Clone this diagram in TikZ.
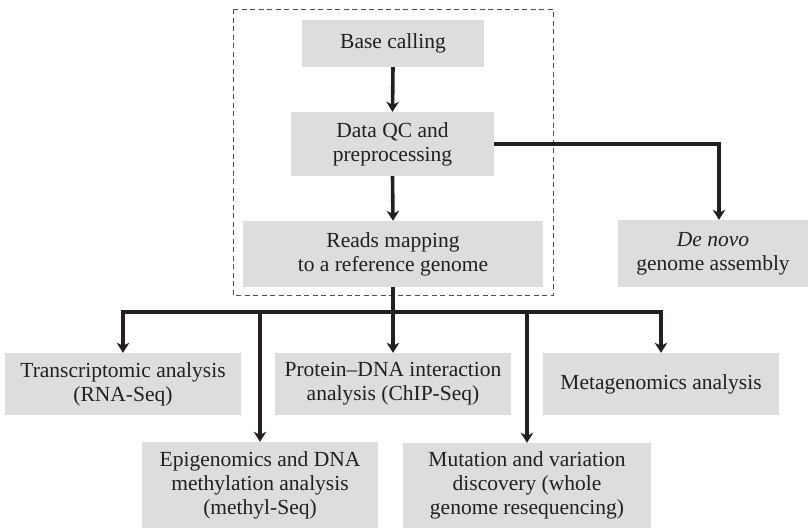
\documentclass[tikz,border=0pt]{standalone}
\usepackage{fontspec}
\setmainfont{Liberation Serif}
\usetikzlibrary{arrows.meta}
\definecolor{boxgray}{RGB}{221,221,222}
\definecolor{ink}{RGB}{35,31,32}
\tikzset{
  stepbox/.style={fill=boxgray, draw=none, align=center, inner sep=0pt,
    text=ink, font=\fontsize{21.5}{24}\selectfont},
  link/.style={draw=ink, line width=3.6pt},
  arr/.style={link, -{Stealth[length=10pt,width=12.5pt,inset=3pt]}},
  group/.style={draw=ink!80, line width=0.9pt, dash pattern=on 5pt off 3.5pt}
}
\begin{document}
\begin{tikzpicture}[x=1pt,y=-1pt]
  \useasboundingbox (0,0) rectangle (812,528);

  % pipeline core
  \node[stepbox, minimum width=182, minimum height=47] (base)  at (393,43.5) {Base calling};
  \node[stepbox, minimum width=203, minimum height=64] (qc)    at (392.5,144) {Data QC and\\preprocessing};
  \node[stepbox, minimum width=300, minimum height=66] (reads) at (393,254) {Reads mapping\\to a reference genome};
  \draw[group] (233,9) rectangle (553,295);

  % assembly branch
  \node[stepbox, minimum width=190, minimum height=67] (denovo) at (713,253.5) {\textit{De novo}\\genome assembly};

  % downstream analyses
  \node[stepbox, minimum width=236, minimum height=62] (trans)   at (123,384) {Transcriptomic analysis\\(RNA-Seq)};
  \node[stepbox, minimum width=236, minimum height=62] (protein) at (393,384) {Protein--DNA interaction\\analysis (ChIP-Seq)};
  \node[stepbox, minimum width=236, minimum height=62] (meta)    at (661,384) {Metagenomics analysis};
  \node[stepbox, minimum width=236, minimum height=86] (epi)     at (260,485) {Epigenomics and DNA\\methylation analysis\\(methyl-Seq)};
  \node[stepbox, minimum width=248, minimum height=85] (mut)     at (527,485.5) {Mutation and variation\\discovery (whole\\genome resequencing)};

  % connectors
  \coordinate (bus) at (0,312);
  \draw[arr] (base.south) -- (qc.north);
  \draw[arr] (qc.south) -- (reads.north);
  \draw[arr] (qc.east) -| ([xshift=6pt]denovo.north);
  \draw[arr] (reads.south) -- (reads.south |- bus) -| (trans.north);
  \draw[arr] (reads.south |- bus) -| (meta.north);
  \draw[arr] (reads.south |- bus) -- (protein.north);
  \draw[arr] (epi.north |- bus) -- (epi.north);
  \draw[arr] (mut.north |- bus) -- (mut.north);
\end{tikzpicture}
\end{document}
